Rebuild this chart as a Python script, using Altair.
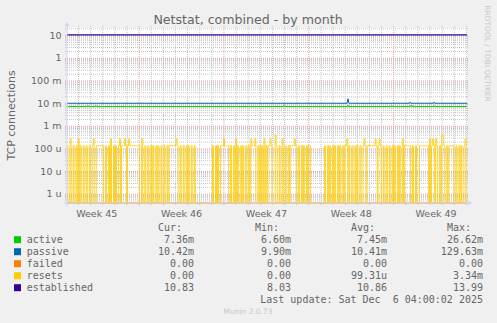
import json
import altair as alt
import pandas as pd

# ---------------- data ----------------
title_text = "Netstat, combined - by month"
y_title = "TCP connections"
weeks = ["Week 45", "Week 46", "Week 47", "Week 48", "Week 49"]
week_mid = [2.45, 9.45, 16.45, 23.45, 30.45]          # days since graph start
week_bounds = [5.95, 12.95, 19.95, 26.95]             # week starts (red grid)
day_bounds = [0.95 + k for k in range(33)]            # midnights (grey grid)
y_ticks = [10, 1, 0.1, 0.01, 0.001, 1e-4, 1e-5, 1e-6]
y_tick_labels = ["10", "1", "100 m", "10 m", "1 m", "100 u", "10 u", "1 u"]
y_domain = [4.1e-7, 21.9]

series_names = ["active", "passive", "failed", "resets", "established"]
series_colors = ["#00CC00", "#0066B3", "#FF8000", "#FFCC00", "#330099"]
cur_vals = [7.36e-3, 10.42e-3, 0.0, 0.0, 10.83]
min_vals = [6.60e-3, 9.90e-3, 0.0, 0.0, 8.03]
avg_vals = [7.45e-3, 10.41e-3, 0.0, 99.31e-6, 10.86]
max_vals = [26.62e-3, 129.63e-3, 0.0, 3.34e-3, 13.99]
last_update = "Last update: Sat Dec \u00a06 04:00:02 2025"
footer = "Munin 2.0.73"
side_text = "RRDTOOL / TOBI OETIKER"

established_t = [0, 33]
established_v = [10.83, 10.83]

passive_t = [0, 23.10, 23.18, 23.26, 28.25, 28.30, 28.35, 30.23, 30.28, 30.33, 33]
passive_v = [10.42e-3, 10.42e-3, 16.5e-3, 10.42e-3, 10.42e-3, 11.6e-3, 10.42e-3,
             10.42e-3, 11.6e-3, 10.42e-3, 10.42e-3]

active_t = [0, 1.68, 1.73, 1.78, 2.34, 2.39, 2.44, 17.85, 17.90, 17.95,
            23.13, 23.18, 23.23, 26.76, 26.81, 26.86, 28.25, 28.30, 28.35,
            28.41, 28.46, 28.51, 30.23, 30.28, 30.33, 33]
active_v = [7.4e-3, 7.4e-3, 8.4e-3, 7.4e-3, 7.4e-3, 8.4e-3, 7.4e-3, 7.4e-3, 8.4e-3, 7.4e-3,
            7.4e-3, 8.6e-3, 7.4e-3, 7.4e-3, 8.4e-3, 7.4e-3, 7.4e-3, 8.4e-3, 7.4e-3,
            7.4e-3, 8.4e-3, 7.4e-3, 7.4e-3, 8.4e-3, 7.4e-3, 7.4e-3]

failed_t = [0, 33]
failed_v = [0.0, 0.0]

# resets counted per 2-hour sample, one string per day (12 samples)
resets_per_2h = [
    "100200100102", "010010010010", "012001111111", "001001020010",
    "100120111210", "121111111111", "002001001001", "010010100100",
    "100101111111", "210010010010", "100100100000", "000000000000",
    "100101001112", "111100100102", "010010100100", "102111200101",
    "010201011210", "003100100200", "100101111210", "010010100101",
    "100000000000", "000100101001", "010010100101", "120100100101",
    "001001210111", "111112101210", "010010010010", "100101002011",
    "111100100100", "011111111102", "012102100103", "310010111110",
    "010010100120",
]

# ---------------- styles ----------------
FONT = "DejaVu Sans"
MONO = "DejaVu Sans Mono"
TXT = "#666666"
AXIS_C = "#CFD6F8"
MINOR = "#C4C4C4"
MAJOR = "#E9A0A0"
FLOOR = 1e-12

xs = alt.Scale(domain=[0, 33], nice=False, zero=False)
ys = alt.Scale(type="log", domain=y_domain, nice=False, clamp=True)

# ---------------- tables ----------------
def series_df(t, v):
    return pd.DataFrame({"t": t, "v": [max(x, FLOOR) for x in v]})

samples = [int(c) for day in resets_per_2h for c in day]
resets_df = pd.DataFrame({
    "t": [i / 12 for i in range(len(samples))],
    "v": [max(c / 7200.0, FLOOR) for c in samples],
})

minor_y = [m * 10.0 ** k for k in range(-7, 2) for m in range(2, 10)
           if y_domain[0] <= m * 10.0 ** k <= y_domain[1]]
major_y = y_ticks
minor_x = [d for d in day_bounds if all(abs(d - w) > 0.01 for w in week_bounds)]

# ---------------- grid ----------------
hgrid_minor = alt.Chart(pd.DataFrame({"gy": minor_y})).mark_rule(
    color=MINOR, strokeWidth=1, strokeDash=[1, 1]
).encode(y=alt.Y("gy:Q", scale=ys, axis=None), x=alt.value(-2), x2=alt.value(402))

hgrid_major = alt.Chart(pd.DataFrame({"gy": major_y})).mark_rule(
    color=MAJOR, strokeWidth=1, strokeDash=[1, 1]
).encode(y=alt.Y("gy:Q", scale=ys, axis=None), x=alt.value(-2), x2=alt.value(402))

vgrid_minor = alt.Chart(pd.DataFrame({"gx": minor_x})).mark_rule(
    color=MINOR, strokeWidth=1, strokeDash=[1, 1]
).encode(x=alt.X("gx:Q", scale=xs, axis=None), y=alt.value(-2), y2=alt.value(177))

vgrid_major = alt.Chart(pd.DataFrame({"gx": week_bounds})).mark_rule(
    color=MAJOR, strokeWidth=1, strokeDash=[1, 1]
).encode(x=alt.X("gx:Q", scale=xs, axis=None), y=alt.value(-2), y2=alt.value(177))

# ---------------- series ----------------
def line(df, color, interp="linear", width=1.0):
    return alt.Chart(df).mark_line(color=color, strokeWidth=width, interpolate=interp).encode(
        x=alt.X("t:Q", scale=xs, axis=None),
        y=alt.Y("v:Q", scale=ys, axis=None),
    )

# ---------------- axis lines, arrows, labels ----------------
left_axis = alt.Chart(pd.DataFrame({"a": [0]})).mark_rule(color=AXIS_C, strokeWidth=1).encode(
    x=alt.value(0), y=alt.value(-4), y2=alt.value(179))
bottom_axis = alt.Chart(pd.DataFrame({"a": [0]})).mark_rule(color=AXIS_C, strokeWidth=1).encode(
    x=alt.value(-3), x2=alt.value(402), y=alt.value(175))
arrow_up = alt.Chart(pd.DataFrame({"a": [0]})).mark_point(
    shape="triangle-up", filled=True, color=AXIS_C, size=28, opacity=1
).encode(x=alt.value(0), y=alt.value(-4))
arrow_right = alt.Chart(pd.DataFrame({"a": [0]})).mark_point(
    shape="triangle-right", filled=True, color=AXIS_C, size=28, opacity=1
).encode(x=alt.value(403), y=alt.value(175))

ytick_layer = alt.Chart(pd.DataFrame({"v": y_ticks, "s": y_tick_labels})).mark_text(
    align="right", baseline="middle", font=FONT, fontSize=9.5, color=TXT
).encode(y=alt.Y("v:Q", scale=ys, axis=None), x=alt.value(-5.5), text="s:N")

week_layer = alt.Chart(pd.DataFrame({"m": week_mid, "s": weeks})).mark_text(
    align="center", baseline="alphabetic", font=FONT, fontSize=9.5, color=TXT
).encode(x=alt.X("m:Q", scale=xs, axis=None), y=alt.value(188.7), text="s:N")

# ---------------- legend / texts ----------------
def fmt(v):
    if v == 0:
        return "0.00\u00a0"
    if v >= 1:
        return f"{v:.2f}\u00a0"
    if v >= 1e-3:
        return f"{v * 1e3:.2f}m"
    return f"{v * 1e6:.2f}u"

leg = pd.DataFrame({
    "r": list(range(len(series_names))),
    "name": series_names,
    "color": series_colors,
    "cur": [fmt(v) for v in cur_vals],
    "min": [fmt(v) for v in min_vals],
    "avg": [fmt(v) for v in avg_vals],
    "max": [fmt(v) for v in max_vals],
})
leg_base = alt.Chart(leg).transform_calculate(py="211.7 + 12 * datum.r")

squares = leg_base.mark_square(size=49, opacity=1).encode(
    x=alt.value(-49.5), y=alt.Y("py:Q", scale=None, axis=None),
    color=alt.Color("color:N", scale=None))
names = leg_base.mark_text(align="left", baseline="middle", font=MONO, fontSize=10,
                           color=TXT).encode(
    x=alt.value(-40.3), y=alt.Y("py:Q", scale=None, axis=None), text="name:N")

col_right = {"cur": 127, "min": 224, "avg": 320, "max": 416}
col_head = {"cur": "Cur:", "min": "Min:", "avg": "Avg:", "max": "Max:"}
value_layers = []
for col, xr in col_right.items():
    value_layers.append(leg_base.mark_text(
        align="right", baseline="middle", font=MONO, fontSize=10, color=TXT
    ).encode(x=alt.value(xr), y=alt.Y("py:Q", scale=None, axis=None), text=f"{col}:N"))

heads = pd.DataFrame({"h": [col_head[c] for c in col_right],
                      "hx": [col_right[c] - 12 for c in col_right]})
head_layer = alt.Chart(heads).mark_text(
    align="right", baseline="middle", font=MONO, fontSize=10, color=TXT
).encode(x=alt.X("hx:Q", scale=None, axis=None), y=alt.value(199.7), text="h:N")

def label(txt, x, y, **kw):
    return alt.Chart(pd.DataFrame({"s": [txt]})).mark_text(**kw).encode(
        x=alt.value(x), y=alt.value(y), text="s:N")

last_layer = label(last_update, 416, 271.7, align="right", baseline="middle",
                   font=MONO, fontSize=10, color=TXT)
footer_layer = label(footer, 181, 284, align="center", baseline="middle",
                     font=FONT, fontSize=7.5, color="#C8C8C8")
title_layer = label(title_text, 181, -4.5, align="center", baseline="alphabetic",
                    font=FONT, fontSize=12.6, color=TXT)
side_layer = label(side_text, 420, 25.5, align="center", baseline="middle",
                   font=FONT, fontSize=7.5, color="#C8C8C8", angle=90)
ytitle_layer = label(y_title, -55.5, 87.5, align="center", baseline="middle",
                     font=FONT, fontSize=11, color=TXT, angle=270)

chart = alt.layer(
    hgrid_minor, vgrid_minor, hgrid_major, vgrid_major,
    line(series_df(active_t, active_v), series_colors[0]),
    line(series_df(passive_t, passive_v), series_colors[1]),
    line(series_df(failed_t, failed_v), series_colors[2]),
    line(resets_df, series_colors[3], interp="step-after", width=0.85),
    line(series_df(established_t, established_v), series_colors[4], width=1.3),
    left_axis, bottom_axis, arrow_up, arrow_right,
    ytick_layer, week_layer,
    squares, names, *value_layers, head_layer,
    last_layer, footer_layer, title_layer, side_layer, ytitle_layer,
).properties(
    width=400, height=175,
    autosize=alt.AutoSizeParams(type="none"),
    padding={"left": 67, "top": 28, "right": 30, "bottom": 120},
    background="#F0F0F0",
).configure_view(fill="white", stroke=None)

chart.save("out.html", embed_options={"renderer": "svg", "actions": False})
